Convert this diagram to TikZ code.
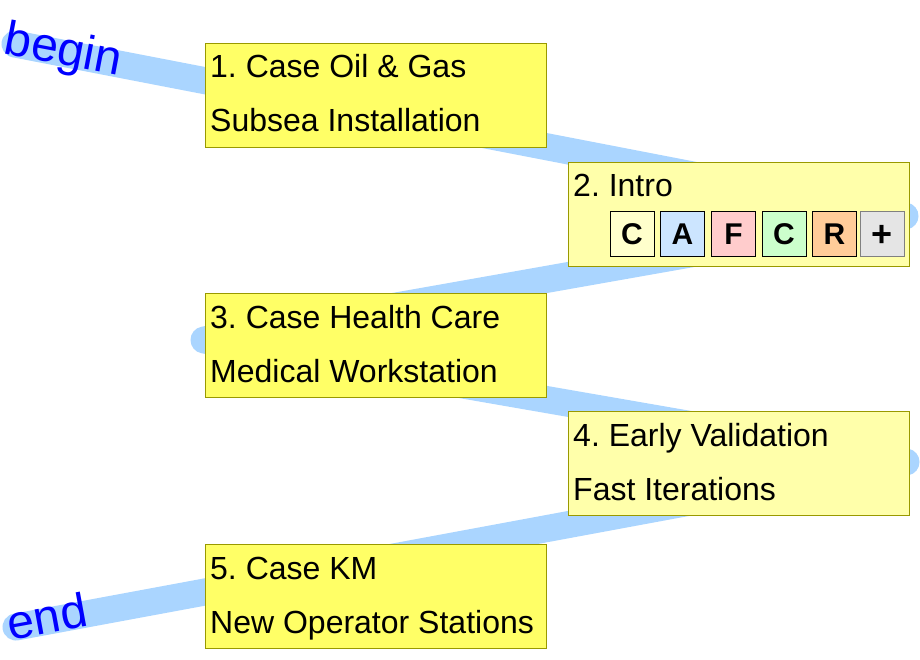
\documentclass[tikz,border=0pt]{standalone}
\usepackage{fontspec}
\setmainfont{Liberation Sans}
\frenchspacing
\definecolor{roadblue}{RGB}{170,213,255}
\definecolor{boxborder}{RGB}{153,153,0}
\definecolor{yellowA}{RGB}{255,255,102}
\definecolor{yellowB}{RGB}{255,255,170}
\definecolor{tagC}{RGB}{255,255,204}
\definecolor{tagA}{RGB}{204,229,255}
\definecolor{tagF}{RGB}{255,204,204}
\definecolor{tagCC}{RGB}{204,255,204}
\definecolor{tagR}{RGB}{255,204,153}
\definecolor{tagP}{RGB}{229,229,229}
\begin{document}
\begin{tikzpicture}[x=1pt,y=-1pt,
  road/.style={line width=27pt, color=roadblue, line cap=round, line join=round},
  box/.style={draw=boxborder, line width=1.2pt, minimum width=341pt, minimum height=104pt, inner sep=0pt, anchor=north west},
  boxA/.style={box, fill=yellowA},
  boxB/.style={box, fill=yellowB},
  txt/.style={font=\fontsize{32}{36}\selectfont, anchor=base west, inner sep=0pt},
  tag/.style={draw=black, line width=1pt, minimum width=44pt, minimum height=45pt, inner sep=0pt, font=\fontsize{30}{32}\selectfont\bfseries},
  ends/.style={text=blue, font=\fontsize{48}{52}\selectfont, inner sep=0pt}]
\useasboundingbox (0,0) rectangle (920,660);
\coordinate (p0) at (15,44);
\coordinate (p1) at (905,216);
\coordinate (p2) at (204,340);
\coordinate (p3) at (906,462);
\coordinate (p4) at (16,627);
\draw[road] (p0) -- (p1) -- (p2) -- (p3) -- (p4);
\node[ends, rotate=-10.8] (beg) at (63,52) {begin};
\node[ends, rotate=10.4] (fin) at (47,616) {end};

\node[boxA] (b1) at (205,43) {};
\node[txt] (t1a) at ([shift={(5,35)}]b1.north west) {1. Case Oil \& Gas};
\node[txt] (t1b) at ([shift={(5,89)}]b1.north west) {Subsea Installation};

\node[boxB] (b2) at (568,162) {};
\node[txt] (t2a) at ([shift={(5,35)}]b2.north west) {2. Intro};
\node[tag, fill=tagC] (g1) at (632,234) {C};
\node[tag, fill=tagA] (g2) at (682.5,234) {A};
\node[tag, fill=tagF] (g3) at (733.5,234) {F};
\node[tag, fill=tagCC] (g4) at (784,234) {C};
\node[tag, fill=tagR] (g5) at (834.5,234) {R};
\node[tag, fill=tagP, draw=gray] (g6) at (882,234) {};
\node[font=\fontsize{36}{36}\selectfont\bfseries, inner sep=0pt] (g6t) at ([yshift=-1.5]g6.center) {+};

\node[boxA] (b3) at (205,293) {};
\node[txt] (t3a) at ([shift={(5,35)}]b3.north west) {3. Case Health Care};
\node[txt] (t3b) at ([shift={(5,89)}]b3.north west) {Medical Workstation};

\node[boxB] (b4) at (568,411) {};
\node[txt] (t4a) at ([shift={(5,35)}]b4.north west) {4. Early Validation};
\node[txt] (t4b) at ([shift={(5,89)}]b4.north west) {Fast Iterations};

\node[boxA] (b5) at (205,544) {};
\node[txt] (t5a) at ([shift={(5,35)}]b5.north west) {5. Case KM};
\node[txt] (t5b) at ([shift={(5,89)}]b5.north west) {New Operator Stations};
\end{tikzpicture}
\end{document}
